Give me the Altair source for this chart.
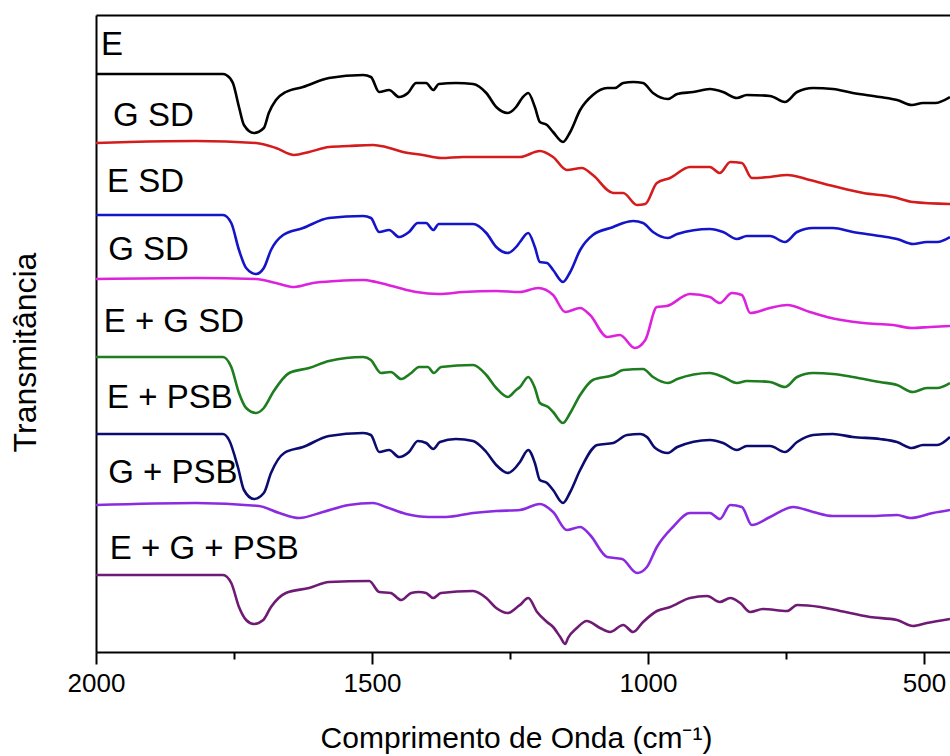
import altair as alt
import pandas as pd

# ---- FTIR spectra: wavenumber (cm-1) and transmittance relative to the 2000 cm-1 plateau ----
e_wn = [2000, 1770, 1764, 1752, 1741, 1732, 1714, 1696, 1687, 1674, 1656, 1625, 1578, 1516, 1502,
        1487, 1469, 1451, 1435, 1420, 1402, 1389, 1379, 1348, 1317, 1293, 1275, 1254, 1239, 1228,
        1217, 1205, 1196, 1183, 1172, 1154, 1141, 1123, 1100, 1074, 1060, 1045, 1027, 1009, 991,
        964, 947, 918, 888, 864, 839, 821, 779, 752, 730, 701, 665, 629, 580, 549, 522, 502, 480, 453]
e_t = [0, 0, -1, -9, -33, -51, -59, -54, -39, -26, -18, -13, -4, -1, -3,
       -18, -16, -23, -19, -9, -9, -16, -10, -9, -10, -19, -33, -39, -33, -24,
       -19, -33, -48, -51, -58, -68, -58, -36, -21, -14, -14, -9, -8, -9, -19,
       -25, -20, -18, -15, -18, -24, -21, -22, -28, -18, -14, -15, -19, -23, -26, -31, -29, -29, -23]

gsd_wn = [2000, 1940, 1819, 1710, 1674, 1641, 1614, 1578, 1542, 1498, 1475, 1444, 1408, 1375, 1335,
          1288, 1232, 1196, 1172, 1147, 1120, 1100, 1063, 1045, 1020, 1005, 984, 960, 924, 888,
          870, 851, 830, 812, 779, 748, 707, 665, 610, 556, 520, 453]
gsd_t = [0, 1, 2, 0, -5, -12, -9, -4, -3, -2, -4, -9, -12, -15, -14,
         -14, -14, -8, -14, -27, -25, -32, -50, -50, -62, -61, -40, -35, -24, -24,
         -30, -19, -20, -35, -34, -32, -37, -43, -50, -54, -59, -61]

esd_wn = [2000, 1770, 1755, 1741, 1728, 1710, 1696, 1683, 1661, 1625, 1578, 1516, 1502, 1487, 1469,
          1451, 1433, 1417, 1402, 1389, 1379, 1317, 1293, 1275, 1254, 1239, 1232, 1217, 1205, 1196,
          1183, 1172, 1154, 1141, 1123, 1100, 1063, 1045, 1027, 1009, 991, 964, 947, 888, 864,
          839, 821, 779, 752, 730, 701, 665, 629, 580, 549, 520, 495, 476, 453]
esd_t = [0, 0, -8, -35, -53, -59, -53, -35, -20, -13, -3, -1, -3, -17, -15,
         -22, -17, -8, -8, -15, -9, -9, -18, -32, -38, -32, -27, -18, -32, -47,
         -48, -55, -67, -57, -35, -20, -12, -8, -6, -8, -17, -23, -19, -14, -17,
         -24, -21, -21, -27, -17, -13, -13, -17, -21, -24, -29, -27, -27, -22]

gsd2_wn = [2000, 1819, 1710, 1674, 1641, 1607, 1565, 1516, 1493, 1457, 1420, 1379, 1335, 1275, 1232,
           1199, 1172, 1150, 1123, 1105, 1074, 1051, 1024, 1005, 984, 966, 924, 888, 870, 848,
           830, 815, 779, 748, 707, 676, 610, 556, 522, 489, 453]
gsd2_t = [0, 1, 0, -4, -8, -4, -2, -1, -3, -8, -13, -15, -13, -12, -13,
          -9, -16, -33, -29, -36, -58, -56, -69, -61, -28, -27, -15, -18, -24, -14,
          -16, -34, -29, -26, -33, -38, -44, -46, -49, -48, -47]

egsd_wn = [2000, 1770, 1755, 1741, 1728, 1710, 1696, 1679, 1650, 1614, 1578, 1516, 1502, 1484, 1466,
           1447, 1429, 1415, 1399, 1388, 1375, 1317, 1293, 1275, 1254, 1239, 1232, 1217, 1205, 1196,
           1181, 1172, 1154, 1141, 1123, 1100, 1063, 1045, 1009, 991, 964, 947, 888, 864, 839,
           821, 779, 752, 730, 701, 665, 629, 580, 549, 520, 495, 476, 453]
egsd_t = [0, 0, -10, -36, -51, -56, -51, -35, -16, -11, -4, 0, -3, -16, -15,
          -22, -16, -10, -10, -16, -10, -8, -18, -31, -40, -33, -30, -20, -31, -46,
          -50, -55, -66, -56, -38, -23, -18, -13, -12, -20, -26, -22, -16, -20, -26,
          -24, -25, -30, -20, -16, -17, -20, -25, -28, -35, -31, -31, -26]

epsb_wn = [2000, 1770, 1759, 1743, 1732, 1714, 1696, 1683, 1659, 1625, 1578, 1516, 1502, 1487, 1469,
           1451, 1433, 1417, 1402, 1389, 1377, 1348, 1317, 1293, 1275, 1254, 1239, 1232, 1217, 1205,
           1196, 1183, 1172, 1154, 1141, 1123, 1092, 1063, 1038, 1014, 1002, 987, 964, 947, 888,
           864, 839, 821, 779, 752, 730, 701, 665, 629, 580, 549, 522, 502, 476, 453]
epsb_t = [0, 0, -6, -33, -56, -65, -59, -39, -19, -13, -2, 1, -1, -18, -16,
          -23, -18, -7, -9, -15, -8, -5, -7, -18, -31, -39, -33, -28, -16, -29,
          -46, -49, -56, -69, -58, -36, -11, -9, -1, 0, -3, -14, -19, -13, -6,
          -9, -16, -12, -12, -18, -8, -1, 0, -3, -5, -8, -14, -11, -11, -3]

gpsb_wn = [2000, 1819, 1705, 1668, 1632, 1589, 1542, 1498, 1475, 1438, 1397, 1366, 1317, 1275, 1232,
           1196, 1172, 1147, 1123, 1105, 1074, 1047, 1020, 1002, 984, 955, 924, 888, 870, 851,
           830, 812, 779, 737, 701, 665, 598, 549, 525, 484, 453]
gpsb_t = [0, 2, -1, -8, -13, -7, 0, 2, -2, -9, -12, -12, -8, -6, -5,
          1, -7, -25, -22, -30, -52, -54, -68, -62, -42, -22, -8, -8, -14, 0,
          -2, -20, -12, -2, -7, -11, -11, -10, -13, -8, -5]

egpsb_wn = [2000, 1770, 1755, 1741, 1728, 1714, 1697, 1683, 1656, 1614, 1578, 1505, 1487, 1466, 1447,
            1429, 1415, 1402, 1389, 1375, 1317, 1293, 1275, 1254, 1239, 1232, 1217, 1201, 1183, 1172,
            1159, 1150, 1145, 1129, 1111, 1087, 1069, 1045, 1027, 1009, 984, 960, 924, 893, 870,
            851, 833, 815, 792, 748, 730, 688, 652, 598, 549, 520, 495, 453]
egpsb_t = [0, 0, -8, -32, -45, -49, -45, -32, -18, -13, -7, -6, -17, -18, -25,
           -18, -17, -18, -23, -18, -16, -23, -33, -38, -33, -30, -23, -37, -47, -52,
           -62, -69, -63, -53, -46, -53, -57, -50, -57, -47, -36, -32, -23, -21, -27,
           -23, -28, -37, -34, -36, -30, -32, -36, -42, -45, -51, -48, -44]

# stacking order (top to bottom), label text, vertical offset and colour of each spectrum
series_ids = ["E", "G SD", "E SD", "G SD 2", "E + G SD", "E + PSB", "G + PSB", "E + G + PSB"]
series_wn = [e_wn, gsd_wn, esd_wn, gsd2_wn, egsd_wn, epsb_wn, gpsb_wn, egpsb_wn]
series_t = [e_t, gsd_t, esd_t, gsd2_t, egsd_t, epsb_t, gpsb_t, egpsb_t]
offsets = [578, 509, 437, 373, 295, 218, 147, 77]
colors = ["#000000", "#d41c1c", "#1414c8", "#dd22dd", "#1e7d1e", "#0c0c70", "#8a2be2", "#6f1a74"]

label_text = ["E", "G SD", "E SD", "G SD", "E + G SD", "E + PSB", "G + PSB", "E + G + PSB"]
label_wn = [1991, 1969, 1980, 1978, 1986, 1980, 1978, 1975]
label_rise = [29, 27, 33, 29, 35, 36, 32, 26]

rows = []
for sid, wn, t, off in zip(series_ids, series_wn, series_t, offsets):
    assert len(wn) == len(t), sid
    for w, v in zip(wn, t):
        rows.append({"id": sid, "wn": w, "t": v + off})
df = pd.DataFrame(rows)

df_labels = pd.DataFrame({
    "label": label_text,
    "wn": label_wn,
    "t": [o + r for o, r in zip(offsets, label_rise)],
})

FONT = "Liberation Sans"
xscale = alt.Scale(domain=[2000, 453], nice=False, zero=False)
yscale = alt.Scale(domain=[0, 637], nice=False, zero=False)

main_x_axis = alt.Axis(
    values=[2000, 1500, 1000, 500], format="d", tickSize=12, tickWidth=2, tickColor="black",
    domainColor="black", domainWidth=2, labelFont=FONT, labelFontSize=26,
    labelColor="black", labelPadding=6, labelFlush=False, grid=False,
    title="Comprimento de Onda (cm⁻¹)", titleFont=FONT, titleFontSize=30,
    titleFontWeight="normal", titleColor="black", titleX=420, titleY=95,
    titleAlign="center", titleBaseline="alphabetic",
)
minor_x_axis = alt.Axis(
    values=[1750, 1250, 750], tickSize=7, tickWidth=2, tickColor="black",
    domain=False, labels=False, grid=False, title=None, orient="bottom",
)
top_axis = alt.Axis(
    orient="top", ticks=False, labels=False, grid=False, title=None,
    domainColor="black", domainWidth=2,
)
y_axis = alt.Axis(
    labels=False, ticks=False, grid=False, domainColor="black", domainWidth=2,
    title="Transmitância", titleFont=FONT, titleFontSize=32, titleFontWeight="normal",
    titleColor="black", titleX=-61, titleY=337, titleAlign="center",
    titleBaseline="alphabetic", titleAngle=-90,
)

lines = alt.Chart(df).mark_line(strokeWidth=2.6, clip=True, interpolate="monotone").encode(
    x=alt.X("wn:Q", scale=xscale, axis=main_x_axis),
    y=alt.Y("t:Q", scale=yscale, axis=y_axis),
    color=alt.Color("id:N", scale=alt.Scale(domain=series_ids, range=colors), legend=None),
)

labels = alt.Chart(df_labels).mark_text(
    align="left", baseline="middle", font=FONT, fontSize=33, color="black"
).encode(
    x=alt.X("wn:Q", scale=xscale, axis=minor_x_axis),
    y=alt.Y("t:Q", scale=yscale, axis=None),
    text="label:N",
)

frame = alt.Chart(df_labels).mark_point(opacity=0).encode(
    x=alt.X("wn:Q", scale=xscale, axis=top_axis),
    y=alt.Y("t:Q", scale=yscale, axis=None),
)

chart = alt.layer(lines, labels, frame).resolve_axis(
    x="independent", y="independent"
).properties(
    width=854, height=637,
    autosize=alt.AutoSizeParams(type="none"),
    padding={"left": 96, "top": 15, "right": 0, "bottom": 104},
    background="white",
).configure_view(strokeWidth=0)

chart.save("out.html", embed_options={"renderer": "svg", "actions": False})
